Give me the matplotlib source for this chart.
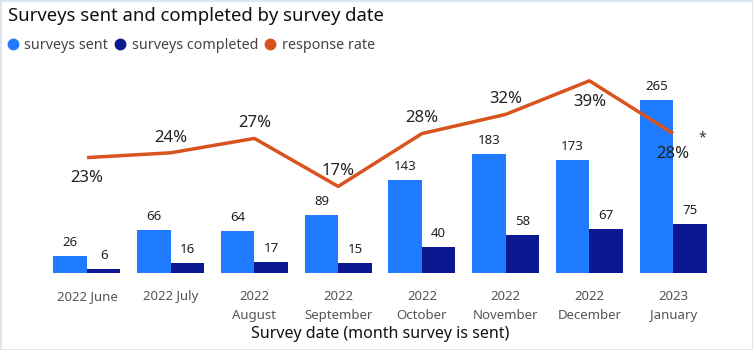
import matplotlib.pyplot as plt
from matplotlib.lines import Line2D
from matplotlib.patches import Rectangle
import numpy as np

plt.rcParams['font.family'] = ['Noto Sans', 'DejaVu Sans']

# data
months = ['2022 June', '2022 July', '2022\nAugust', '2022\nSeptember',
          '2022\nOctober', '2022\nNovember', '2022\nDecember', '2023\nJanuary']
sent = [26, 66, 64, 89, 143, 183, 173, 265]
completed = [6, 16, 17, 15, 40, 58, 67, 75]
rate = [23, 24, 27, 17, 28, 32, 39, 28]
# label above (+) or below (-) the line
rate_label_side = [-1, 1, 1, 1, 1, 1, -1, -1]

c_sent = '#1f7bff'
c_comp = '#0c1890'
c_rate = '#d9531e'

fig = plt.figure(figsize=(7.53, 3.5), dpi=100)
fig.patches.append(Rectangle((0, 0), 1, 1, transform=fig.transFigure,
                             fill=False, edgecolor='#dbe5ee', linewidth=2))

ax = fig.add_axes([0.0598, 0.22, 0.8898, 0.58])
x = np.arange(len(months))
w = 0.4
ax.bar(x - w / 2, sent, w, color=c_sent)
ax.bar(x + w / 2, completed, w, color=c_comp)
for xi, v in zip(x, sent):
    ax.annotate(str(v), (xi - w / 2, v), xytext=(0, 5), textcoords='offset points',
                ha='center', va='bottom', fontsize=9.5, color='#222222')
for xi, v in zip(x, completed):
    ax.annotate(str(v), (xi + w / 2, v), xytext=(0, 5), textcoords='offset points',
                ha='center', va='bottom', fontsize=9.5, color='#222222')
ax.set_ylim(0, 311)
ax.set_xlim(-0.5, len(months) - 0.5)
ax.set_yticks([])
for s in ax.spines.values():
    s.set_visible(False)
ax.set_xticks(x)
ax.set_xticklabels(months, fontsize=9.5, color='#555555', linespacing=1.6)
ax.tick_params(axis='x', length=0, pad=12)
ax.set_xlabel('Survey date (month survey is sent)', fontsize=11.5, color='#111111',
              labelpad=3)

ax2 = ax.twinx()
ax2.plot(x, rate, color=c_rate, linewidth=2.5, solid_capstyle='butt')
ax2.set_ylim(-1.04, 41.25)
ax2.set_yticks([])
for s in ax2.spines.values():
    s.set_visible(False)
for xi, v, side in zip(x, rate, rate_label_side):
    off = 11 if side > 0 else -15
    ax2.annotate(f'{v}%', (xi, v), xytext=(0, off), textcoords='offset points',
                 ha='center', va='center', fontsize=12, color='#222222')
ax2.annotate('*', (x[-1], rate[-1]), xytext=(21, -3), textcoords='offset points',
             ha='center', va='center', fontsize=10, color='#333333')

fig.text(0.011, 0.955, 'Surveys sent and completed by survey date', fontsize=13.3,
         color='#111111', ha='left', va='center')

handles = [Line2D([], [], marker='o', linestyle='', color=c, markersize=7.5)
           for c in (c_sent, c_comp, c_rate)]
fig.legend(handles, ['surveys sent', 'surveys completed', 'response rate'],
           loc='center left', bbox_to_anchor=(0.0, 0.87), ncol=3, frameon=False,
           fontsize=10.3, handletextpad=0.3, columnspacing=0.35, labelcolor='#444444',
           borderaxespad=0, handlelength=1.0)

fig.savefig('out.png', dpi=100)
